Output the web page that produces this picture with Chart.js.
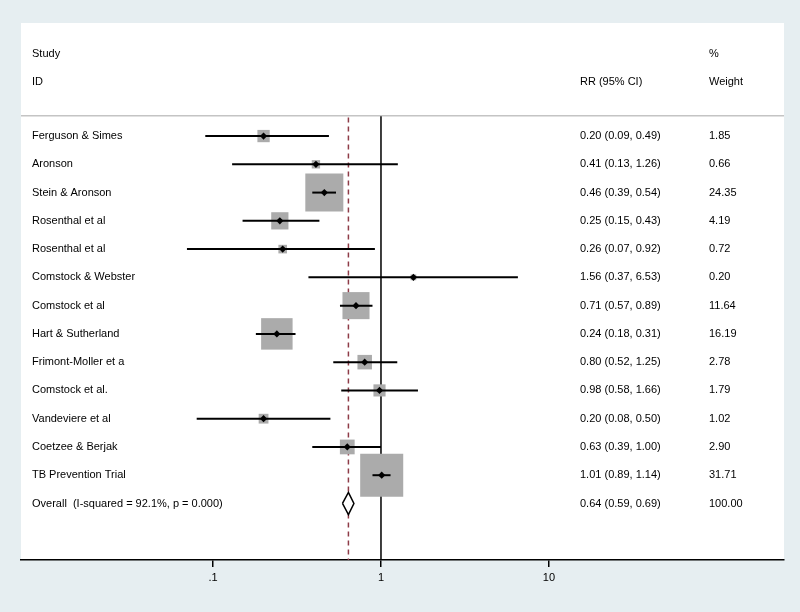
<!DOCTYPE html>
<html><head><meta charset="utf-8">
<script src="https://cdn.jsdelivr.net/npm/chart.js@4"></script>
<style>html,body{margin:0;padding:0;background:#e6eef1;}canvas{display:block}</style>
</head><body>
<canvas id="c" width="800" height="612"></canvas>
<script>
const studies = ["Ferguson & Simes","Aronson","Stein & Aronson","Rosenthal et al","Rosenthal et al","Comstock & Webster","Comstock et al","Hart & Sutherland","Frimont-Moller et a","Comstock et al.","Vandeviere et al","Coetzee & Berjak","TB Prevention Trial"];
const rr     = [0.20,0.41,0.46,0.25,0.26,1.56,0.71,0.24,0.80,0.98,0.20,0.63,1.01];
const ciLow  = [0.09,0.13,0.39,0.15,0.07,0.37,0.57,0.18,0.52,0.58,0.08,0.39,0.89];
const ciHigh = [0.49,1.26,0.54,0.43,0.92,6.53,0.89,0.31,1.25,1.66,0.50,1.00,1.14];
const weights= [1.85,0.66,24.35,4.19,0.72,0.20,11.64,16.19,2.78,1.79,1.02,2.90,31.71];
const overallLabel = "Overall  (I-squared = 92.1%, p = 0.000)";
const overallRR = 0.64, overallLow = 0.59, overallHigh = 0.69, overallWeight = 100.00;
const tickValues = [0.1, 1, 10];
const tickLabels = [".1", "1", "10"];
const headerLeft = ["Study", "ID"];
const headerRR = "RR (95% CI)";
const headerWeight = ["%", "Weight"];

const FONT = '11px "Liberation Sans", Arial, sans-serif';
const xMin = 0.0072, xMax = 250.5;
const rowY = i => i + 1;
const overallY = studies.length + 1;

const datasets = [];
// markers (top)
datasets.push({data: rr.map((v,i)=>({x:v,y:rowY(i)})), pointStyle:'rectRot', pointRadius:3.6, backgroundColor:'#000', borderWidth:0, showLine:false});
// overall diamond
const dh = 0.39;
datasets.push({data:[{x:overallLow,y:overallY},{x:overallRR,y:overallY-dh},{x:overallHigh,y:overallY},{x:overallRR,y:overallY+dh},{x:overallLow,y:overallY}],
  showLine:true, pointRadius:0, borderColor:'#000', borderWidth:1.5, fill:'shape', backgroundColor:'#fff', tension:0});
// CI lines
studies.forEach((s,i)=>{
  datasets.push({data:[{x:ciLow[i],y:rowY(i)},{x:ciHigh[i],y:rowY(i)}], showLine:true, pointRadius:0, borderColor:'#000', borderWidth:2});
});
// boxes
datasets.push({data: rr.map((v,i)=>({x:v,y:rowY(i)})), pointStyle:'rect',
  pointRadius: ctx => (7.2*Math.sqrt(weights[ctx.dataIndex]) + 2.5)/Math.SQRT2,
  backgroundColor:'#ababab', borderWidth:0, showLine:false});
// dashed overall line
datasets.push({data:[{x:overallRR,y:0.34},{x:overallRR,y:16}], showLine:true, pointRadius:0, borderColor:'#8e3b47', borderWidth:1.5, borderDash:[5,4]});
// null line
datasets.push({data:[{x:1,y:0.3},{x:1,y:16}], showLine:true, pointRadius:0, borderColor:'#000', borderWidth:1.5});
// header separator
datasets.push({data:[{x:xMin,y:0.28},{x:xMax,y:0.28}], showLine:true, pointRadius:0, borderColor:'#c4c4c4', borderWidth:1.5});

const bgPlugin = {
  id:'bg',
  beforeDraw(chart){
    const {ctx, chartArea:a} = chart;
    ctx.save(); ctx.fillStyle='#fff'; ctx.fillRect(a.left, a.top, a.right-a.left, a.bottom-a.top); ctx.restore();
  }
};
const textPlugin = {
  id:'texts',
  afterDatasetsDraw(chart){
    const {ctx, chartArea:a} = chart;
    const y = chart.scales.y;
    const xLab = a.left + 11, xRR = 580, xW = 709;
    ctx.save();
    ctx.font = FONT; ctx.fillStyle = '#000'; ctx.textBaseline = 'middle'; ctx.textAlign = 'left';
    ctx.fillText(headerLeft[0], xLab, y.getPixelForValue(-1.9));
    ctx.fillText(headerLeft[1], xLab, y.getPixelForValue(-0.9));
    ctx.fillText(headerWeight[0], xW, y.getPixelForValue(-1.9));
    ctx.fillText(headerWeight[1], xW, y.getPixelForValue(-0.9));
    ctx.fillText(headerRR, xRR, y.getPixelForValue(-0.9));
    studies.forEach((s,i)=>{
      const py = y.getPixelForValue(rowY(i));
      ctx.fillText(s, xLab, py);
      ctx.fillText(`${rr[i].toFixed(2)} (${ciLow[i].toFixed(2)}, ${ciHigh[i].toFixed(2)})`, xRR, py);
      ctx.fillText(weights[i].toFixed(2), xW, py);
    });
    const po = y.getPixelForValue(overallY);
    ctx.fillText(overallLabel, xLab, po);
    ctx.fillText(`${overallRR.toFixed(2)} (${overallLow.toFixed(2)}, ${overallHigh.toFixed(2)})`, xRR, po);
    ctx.fillText(overallWeight.toFixed(2), xW, po);
    ctx.restore();
  }
};

new Chart(document.getElementById('c'), {
  type:'scatter',
  data:{datasets},
  options:{
    responsive:false, animation:false, events:[],
    layout:{autoPadding:false, padding:{left:21, right:16, top:23, bottom:23.8}},
    plugins:{legend:{display:false}, tooltip:{enabled:false}},
    scales:{
      x:{type:'logarithmic', min:xMin, max:xMax,
        afterBuildTicks: axis => { axis.ticks = tickValues.map(v=>({value:v})); },
        ticks:{autoSkip:false, maxRotation:0, padding:4, color:'#000', font:{family:'"Liberation Sans", Arial, sans-serif', size:11},
          callback:(v,idx)=>tickLabels[idx]},
        grid:{display:true, drawOnChartArea:false, drawTicks:true, tickLength:7, color:'#000', lineWidth:1.5},
        border:{display:true, color:'#000', width:1.5}
      },
      y:{type:'linear', min:-3, max:16, reverse:true, display:false}
    }
  },
  plugins:[bgPlugin, textPlugin]
});
</script>
</body></html>
